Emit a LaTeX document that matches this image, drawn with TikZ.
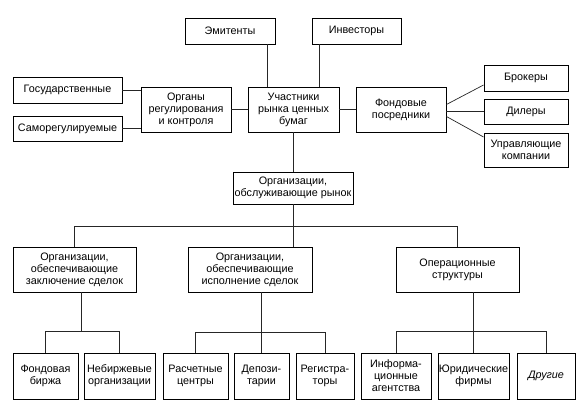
\documentclass[tikz,border=0pt]{standalone}
\usepackage{fontspec}
\setmainfont{Liberation Sans}
\begin{document}
\begin{tikzpicture}[x=1pt,y=-1pt,
  box/.style={draw=black,line width=0.9pt,rectangle,inner sep=0pt,align=center,
    font=\fontsize{10.8}{12}\selectfont},
  conn/.style={draw=black!85,line width=0.7pt}]
\useasboundingbox (0,0) rectangle (582,419);
% top
\node[box,minimum width=90,minimum height=26] (emit) at (230,31) {Эмитенты};
\node[box,minimum width=89,minimum height=26] (inv) at (356.5,31) {Инвесторы};
\node[box,minimum width=91,minimum height=45] (uch) at (293.5,109.5) {Участники\\рынка ценных\\бумаг};
\node[box,minimum width=90,minimum height=45] (org) at (186,109.5) {Органы\\регулирования\\и контроля};
\node[box,minimum width=109,minimum height=26] (gos) at (67.5,90) {Государственные};
\node[box,minimum width=109,minimum height=25] (samo) at (67.5,128.5) {Саморегулируемые};
\node[box,minimum width=90,minimum height=45] (fond) at (401,109.5) {Фондовые\\посредники};
\node[box,minimum width=84,minimum height=26] (brok) at (526,78) {Брокеры};
\node[box,minimum width=84,minimum height=25] (dil) at (526,111.5) {Дилеры};
\node[box,minimum width=84,minimum height=34] (upr) at (526,150) {Управляющие\\компании};
% middle
\node[box,minimum width=120,minimum height=32] (obs) at (293,188) {Организации,\\обслуживающие рынок};
\node[box,minimum width=123,minimum height=45] (zak) at (74.5,269.5) {Организации,\\обеспечивающие\\заключение сделок};
\node[box,minimum width=124,minimum height=45] (isp) at (250,269.5) {Организации,\\обеспечивающие\\исполнение сделок};
\node[box,minimum width=123,minimum height=45] (oper) at (457.5,269.5) {Операционные\\структуры};
% bottom
\node[box,minimum width=65,minimum height=46] (fb) at (45.5,376) {Фондовая\\биржа};
\node[box,minimum width=71,minimum height=46] (neb) at (119.5,376) {Небиржевые\\организации};
\node[box,minimum width=65,minimum height=46] (ras) at (195.5,376) {Расчетные\\центры};
\node[box,minimum width=55,minimum height=46] (dep) at (261.5,376) {Депози-\\тарии};
\node[box,minimum width=58,minimum height=46] (reg) at (325,376) {Регистра-\\торы};
\node[box,minimum width=70,minimum height=46] (inf) at (396,376) {Информа-\\ционные\\агентства};
\node[box,minimum width=71,minimum height=46] (yur) at (473.5,376) {Юридические\\фирмы};
\node[box,minimum width=58,minimum height=46] (dr) at (546,376) {\itshape Другие};
% connectors top
\path (emit.south) ++(37,0) coordinate (e1);
\path (inv.south) ++(-37.5,0) coordinate (i1);
\draw[conn] (e1) -- (e1 |- uch.north);
\draw[conn] (i1) -- (i1 |- uch.north);
\draw[conn] (org.east) -- (uch.west);
\draw[conn] (gos.east) -- (gos.east -| org.west);
\draw[conn] (samo.east) -- (samo.east -| org.west);
\draw[conn] (uch.east) -- (fond.west);
\draw[conn] ([yshift=5pt]fond.east) -- ([yshift=-7pt]brok.west);
\draw[conn] (dil.west -| fond.east) -- (dil.west);
\draw[conn] ([yshift=-7pt]fond.east) -- ([yshift=13pt]upr.west);
\draw[conn] (uch.south) -- (uch.south |- obs.north);
% middle level
\path (obs.south) ++(0,22) coordinate (hb);
\draw[conn] (obs.south) -- (obs.south |- isp.north);
\draw[conn] (zak.north) |- (hb) -| (oper.north);
% bottom groups
\path (zak.south) ++(6.5,0) coordinate (zs);
\path (zs) ++(0,39) coordinate (zh);
\draw[conn] (zs) -- (zh);
\draw[conn] (fb.north) |- (zh) -| (neb.north);
\path (dep.north) ++(0,-20) coordinate (dh);
\draw[conn] (dep.north |- isp.south) -- (dep.north);
\draw[conn] (ras.north) |- (dh) -| (reg.north);
\path (yur.north) ++(0,-21) coordinate (oh);
\draw[conn] (yur.north |- oper.south) -- (yur.north);
\draw[conn] (inf.north) |- (oh) -| (dr.north);
\end{tikzpicture}
\end{document}
